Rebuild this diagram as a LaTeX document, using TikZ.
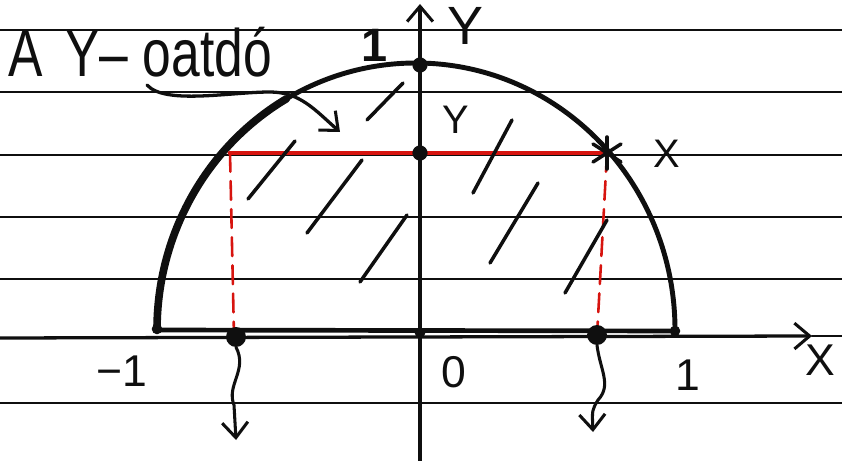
\documentclass[tikz,border=0pt]{standalone}
\usepackage{fontspec}
\setmainfont{Liberation Sans}
\usetikzlibrary{arrows.meta,calc}
\definecolor{pen}{RGB}{15,15,15}
\definecolor{redpen}{RGB}{215,20,15}
\begin{document}
\begin{tikzpicture}[x=0.03cm,y=-0.03cm,line cap=round,line join=round,
  rule/.style={pen,line width=2.2pt},
  axis/.style={pen,line width=2.8pt},
  curve/.style={pen,line width=4.2pt},
  hatch/.style={pen,line width=3pt},
  dot/.style={circle,fill=pen,inner sep=0pt,minimum size=#1},
  lbl/.style={text=pen,inner sep=0pt,font=\fontsize{36}{36}\selectfont},
  barb/.style={-{Straight Barb[length=13pt,width=22pt,line width=2.6pt]}}]
\useasboundingbox (0,0) rectangle (842,461);
\fill[white] (0,0) rectangle (842,461);
% ruled lines
\foreach \yy in {30,92,155,217,279,403}
  \draw[rule] (0,\yy) -- (842,\yy);
% x axis (on ruled line)
\coordinate (xl) at (0,338);
\coordinate (xr) at (812,336);
\draw[rule] (812,336) -- (842,336);
\draw[axis,barb] (xl) -- (xr);
% y axis
\coordinate (yb) at (420,461);
\coordinate (yt) at (420,4);
\draw[axis,barb] (yb) -- (yt);
% semicircle region
\coordinate (E1) at (157,330);
\coordinate (E2) at (675,331);
\draw[curve] (E1) arc[start angle=180,end angle=360,x radius=259,y radius=267];
\draw[pen,line width=6.5pt] (E1) arc[start angle=180,end angle=240,x radius=259,y radius=267];
\draw[pen,line width=4pt] (E1) -- (E2);
% red chord and dashed verticals
\coordinate (L) at (230,153);
\coordinate (S) at (607,153);
\coordinate (Lb) at (234,336);
\coordinate (Sb) at (597,336);
\draw[redpen,line width=4pt] (L) -- (S);
\draw[redpen,line width=2.2pt,dash pattern=on 16pt off 8pt] (L) -- (Lb);
\draw[redpen,line width=2.2pt,dash pattern=on 16pt off 8pt] (S) -- (Sb);
% asterisk at x
\draw[pen,line width=3pt] ($(S)+(0,-16)$) -- ($(S)+(0,16)$);
\draw[pen,line width=3pt] ($(S)+(-14,-9)$) -- ($(S)+(14,9)$);
\draw[pen,line width=3pt] ($(S)+(-14,9)$) -- ($(S)+(14,-9)$);
% dots
\node[dot=13pt] (top) at (420,65) {};
\node[dot=13pt] (mid) at (420,153) {};
\node[dot=9pt] (o) at (420,333) {};
\node[dot=9pt] (m1) at (157,329) {};
\node[dot=9pt] (p1) at (675,331) {};
\node[dot=17pt] (xa) at (236,337) {};
\node[dot=17pt] (xb) at (597,335) {};
% hatch strokes
\draw[hatch] (367,120) -- (403,83);
\draw[hatch] (248,199) -- (295,141);
\draw[hatch] (307,233) -- (362,160);
\draw[hatch] (360,282) -- (407,215);
\draw[hatch] (473,193) -- (512,120);
\draw[hatch] (490,263) -- (538,183);
\draw[hatch] (565,293) -- (607,220);
% squiggly arrows down
\coordinate (ta) at (236,440);
\coordinate (tb) at (593,432);
\draw[pen,line width=2.6pt,barb] (xa.south) .. controls (248,370) and (226,385) .. (234,405) -- (ta);
\draw[pen,line width=2.6pt,barb] (xb.south) .. controls (600,370) and (612,385) .. (598,400) .. controls (592,410) .. (tb);
% curved arrow from label
\coordinate (c0) at (147,85);
\coordinate (c1) at (340,132);
\draw[pen,line width=2.8pt,barb] (c0) .. controls (165,105) and (230,92) .. (270,92) .. controls (300,92) and (315,110) .. (c1);
% labels
\node[lbl,anchor=west,yscale=1.3,font=\fontsize{44}{44}\selectfont] (title) at (8,52) {A\, Y– oatdó};
\node[lbl,font=\fontsize{40}{40}\selectfont\bfseries] (one) at (375,45) {1};
\node[lbl,font=\fontsize{46}{46}\selectfont] (Yax) at (465,26) {Y};
\node[lbl,font=\fontsize{34}{34}\selectfont] (Yin) at (456,120) {Y};
\node[lbl,font=\fontsize{34}{34}\selectfont] (Xpt) at (667,154) {X};
\node[lbl,font=\fontsize{38}{38}\selectfont] (mone) at (122,371) {−1};
\node[lbl,font=\fontsize{38}{38}\selectfont] (zero) at (454,372) {0};
\node[lbl,font=\fontsize{38}{38}\selectfont] (pone) at (688,375) {1};
\node[lbl,font=\fontsize{38}{38}\selectfont] (Xax) at (820,360) {X};
\end{tikzpicture}
\end{document}
